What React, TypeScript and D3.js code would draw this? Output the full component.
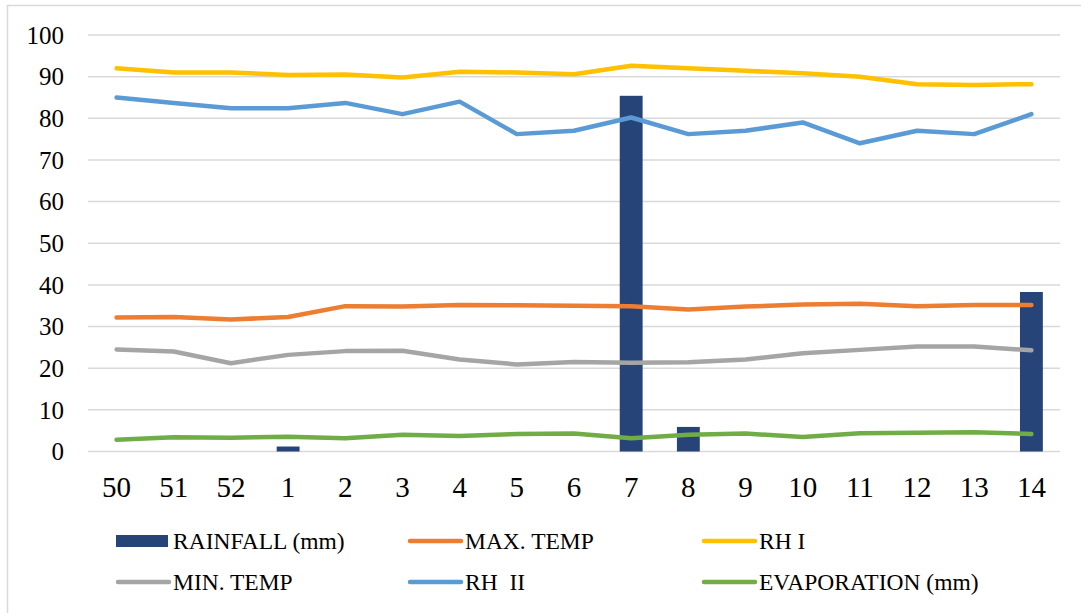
import React, { useEffect, useRef } from "react";
import * as d3 from "d3";

const weeks = ["50", "51", "52", "1", "2", "3", "4", "5", "6", "7", "8", "9", "10", "11", "12", "13", "14"];
const rainfall = [0, 0, 0, 1.2, 0, 0, 0, 0, 0, 85.4, 5.9, 0, 0, 0, 0, 0, 38.3];
const maxTemp = [32.2, 32.3, 31.7, 32.3, 34.9, 34.8, 35.2, 35.1, 35.0, 34.9, 34.1, 34.8, 35.3, 35.5, 34.9, 35.2, 35.2];
const rhI = [92.0, 91.0, 91.0, 90.4, 90.5, 89.8, 91.2, 91.0, 90.6, 92.6, 92.0, 91.4, 90.8, 90.0, 88.2, 88.0, 88.2];
const minTemp = [24.5, 24.0, 21.2, 23.2, 24.1, 24.2, 22.1, 20.9, 21.5, 21.3, 21.4, 22.1, 23.6, 24.4, 25.2, 25.2, 24.3];
const rhII = [85.0, 83.7, 82.4, 82.4, 83.7, 81.0, 84.0, 76.2, 77.0, 80.2, 76.2, 77.0, 79.0, 74.0, 77.0, 76.2, 81.0];
const evaporation = [2.8, 3.4, 3.3, 3.55, 3.2, 4.0, 3.7, 4.2, 4.3, 3.2, 4.0, 4.3, 3.5, 4.4, 4.5, 4.6, 4.2];
const yTicks = [0, 10, 20, 30, 40, 50, 60, 70, 80, 90, 100];

const lineSeries = [
  { name: "MAX. TEMP", values: maxTemp, color: "#ED7D31" },
  { name: "RH I", values: rhI, color: "#FFC000" },
  { name: "MIN. TEMP", values: minTemp, color: "#A5A5A5" },
  { name: "RH  II", values: rhII, color: "#5B9BD5" },
  { name: "EVAPORATION (mm)", values: evaporation, color: "#70AD47" },
];
const barColor = "#264478";

// legend order as in the picture (row by row)
const legendItems = [
  { name: "RAINFALL (mm)", color: barColor, bar: true },
  { name: "MAX. TEMP", color: "#ED7D31", bar: false },
  { name: "RH I", color: "#FFC000", bar: false },
  { name: "MIN. TEMP", color: "#A5A5A5", bar: false },
  { name: "RH  II", color: "#5B9BD5", bar: false },
  { name: "EVAPORATION (mm)", color: "#70AD47", bar: false },
];

const W = 1081;
const H = 613;
const font = "Liberation Serif";

const App = () => {
  const ref = useRef<SVGSVGElement | null>(null);

  useEffect(() => {
    const svg = d3.select(ref.current);
    svg.selectAll("*").remove();

    const left = 88;
    const right = 1060;
    const top = 35;
    const bottom = 451.5;

    const x = d3.scaleBand().domain(weeks).range([left, right]).padding(0);
    const y = d3.scaleLinear().domain([0, 100]).range([bottom, top]);

    svg.append("rect").attr("width", W).attr("height", H).attr("fill", "white");

    // chart border (only top / left visible)
    svg
      .append("path")
      .attr("d", `M7.5,${H} L7.5,5.5 L${W},5.5`)
      .attr("fill", "none")
      .attr("stroke", "#D9D9D9")
      .attr("stroke-width", 1.5);

    // gridlines
    svg
      .append("g")
      .selectAll("line")
      .data(yTicks)
      .enter()
      .append("line")
      .attr("x1", left)
      .attr("x2", right)
      .attr("y1", (d) => y(d))
      .attr("y2", (d) => y(d))
      .attr("stroke", "#D9D9D9")
      .attr("stroke-width", 1.5);

    // y labels
    svg
      .append("g")
      .selectAll("text")
      .data(yTicks)
      .enter()
      .append("text")
      .attr("x", 64)
      .attr("y", (d) => y(d))
      .attr("dy", "0.35em")
      .attr("text-anchor", "end")
      .attr("font-family", font)
      .attr("font-size", 25)
      .attr("fill", "#000")
      .text((d) => d);

    // x labels
    svg
      .append("g")
      .selectAll("text")
      .data(weeks)
      .enter()
      .append("text")
      .attr("x", (d) => (x(d) as number) + x.bandwidth() / 2)
      .attr("y", 487)
      .attr("dy", "0.35em")
      .attr("text-anchor", "middle")
      .attr("font-family", font)
      .attr("font-size", 29)
      .attr("fill", "#000")
      .text((d) => d);

    // bars
    const barW = x.bandwidth() / 2.5;
    svg
      .append("g")
      .selectAll("rect")
      .data(rainfall.map((v, i) => ({ v, k: weeks[i] })).filter((d) => d.v > 0))
      .enter()
      .append("rect")
      .attr("x", (d) => (x(d.k) as number) + x.bandwidth() / 2 - barW / 2)
      .attr("y", (d) => y(d.v))
      .attr("width", barW)
      .attr("height", (d) => bottom - y(d.v))
      .attr("fill", barColor);

    // lines
    const line = d3
      .line<number>()
      .x((_, i) => (x(weeks[i]) as number) + x.bandwidth() / 2)
      .y((d) => y(d));

    lineSeries.forEach((s) => {
      svg
        .append("path")
        .attr("d", line(s.values))
        .attr("fill", "none")
        .attr("stroke", s.color)
        .attr("stroke-width", 4.5)
        .attr("stroke-linecap", "round")
        .attr("stroke-linejoin", "round");
    });

    // legend
    const colX = [116, 408, 702];
    const rowY = [541, 582];
    const lg = svg
      .append("g")
      .selectAll("g")
      .data(legendItems)
      .enter()
      .append("g")
      .attr("transform", (_, i) => `translate(${colX[i % 3]},${rowY[Math.floor(i / 3)]})`);

    lg.each(function (d) {
      const g = d3.select(this);
      if (d.bar) {
        g.append("rect").attr("x", 0).attr("y", -6).attr("width", 52).attr("height", 12).attr("fill", d.color);
      } else {
        g.append("line")
          .attr("x1", 2)
          .attr("x2", 53)
          .attr("y1", 0)
          .attr("y2", 0)
          .attr("stroke", d.color)
          .attr("stroke-width", 4.5)
          .attr("stroke-linecap", "round");
      }
      g.append("text")
        .attr("x", 57)
        .attr("y", 0)
        .attr("dy", "0.35em")
        .attr("font-family", font)
        .attr("font-size", 23.5)
        .style("white-space", "pre")
        .attr("fill", "#000")
        .text(d.name);
    });
  }, []);

  return (
    <svg
      ref={ref}
      width={W}
      height={H}
      style={{ position: "absolute", left: 0, top: 0, display: "block" }}
    />
  );
};

export default App;
